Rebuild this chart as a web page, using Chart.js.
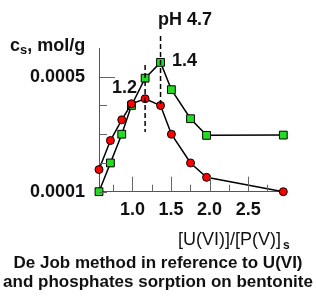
<!DOCTYPE html>
<html>
<head>
<meta charset="utf-8">
<script src="https://cdn.jsdelivr.net/npm/chart.js@4.4.0/dist/chart.umd.min.js"></script>
<style>
  html, body { margin: 0; padding: 0; background: #fff; }
  canvas { display: block; }
</style>
</head>
<body>
<canvas id="chart" width="316" height="300"></canvas>
<script>
// U(VI)/P(V) ratio on the x axis
const ratio = [0.566, 0.714, 0.861, 0.987, 1.164, 1.364, 1.505, 1.753, 1.961, 2.956];
// sorbed amounts, mol/g
const uranium = [0.000177, 0.000278, 0.00035, 0.000406, 0.0004235, 0.0004, 0.0003, 0.0002, 0.00015, 0.0001];
const phosphate = [0.0001, 0.0002, 0.0003, 0.0004, 0.000495, 0.00055, 0.000455, 0.000354, 0.000296, 0.000297];

const xTicks = [0.75, 1.0, 1.25, 1.5, 1.75, 2.0, 2.25, 2.5, 2.75];
const xLabelled = [1.0, 1.5, 2.0, 2.5];
const yTicks = [0.0001, 0.0002, 0.0003, 0.0004, 0.0005];
const yLabelled = [0.0001, 0.0005];
const maxima = [1.164, 1.364];
const maximaLabels = ['1.2', '1.4'];

const FONT = '"Liberation Sans", Arial, sans-serif';
const near = (a, b) => Math.abs(a - b) < 1e-9;

function toPoints(ys) {
    return ratio.map((x, i) => ({ x: x, y: ys[i] }));
}

// tick marks inside the axes, dashed lines and the free texts
const decorations = {
    id: 'decorations',
    afterDraw(chart) {
        const ctx = chart.ctx;
        const xs = chart.scales.x;
        const ys = chart.scales.y;
        const area = chart.chartArea;
        ctx.save();

        ctx.strokeStyle = '#666';
        ctx.lineWidth = 1;
        xTicks.forEach(v => {
            const px = Math.round(xs.getPixelForValue(v)) + 0.5;
            const len = xLabelled.some(l => near(l, v)) ? 15 : 7;
            ctx.beginPath();
            ctx.moveTo(px, area.bottom);
            ctx.lineTo(px, area.bottom - len);
            ctx.stroke();
        });
        yTicks.forEach(v => {
            const py = Math.round(ys.getPixelForValue(v)) + 0.5;
            const len = near(v, 0.0005) ? 16 : 8;
            ctx.beginPath();
            ctx.moveTo(area.left, py);
            ctx.lineTo(area.left + len, py);
            ctx.stroke();
        });

        // dashed lines at the two maxima
        ctx.strokeStyle = '#000';
        ctx.lineWidth = 1.5;
        ctx.setLineDash([5, 3]);
        let px = xs.getPixelForValue(maxima[0]);
        ctx.beginPath();
        ctx.moveTo(px, 65);
        ctx.lineTo(px, 132);
        ctx.stroke();
        px = xs.getPixelForValue(maxima[1]);
        ctx.beginPath();
        ctx.moveTo(px, 36);
        ctx.lineTo(px, 104);
        ctx.stroke();
        ctx.setLineDash([]);

        ctx.fillStyle = '#111';
        ctx.textBaseline = 'alphabetic';
        ctx.textAlign = 'left';
        ctx.font = 'bold 18px ' + FONT;
        ctx.fillText(maximaLabels[0], 112, 93);
        ctx.fillText(maximaLabels[1], 172, 66);

        ctx.textAlign = 'center';
        ctx.fillText('pH 4.7', 185, 25);

        // y axis title
        ctx.textAlign = 'left';
        ctx.fillText('c', 10, 51);
        let w = ctx.measureText('c').width;
        ctx.font = 'bold 13px ' + FONT;
        ctx.fillText('s', 10 + w, 54);
        w += ctx.measureText('s').width;
        ctx.font = 'bold 18px ' + FONT;
        ctx.fillText(', mol/g', 10 + w, 51);

        // x axis title
        ctx.font = '18px ' + FONT;
        ctx.fillText('[U(VI)]/[P(V)]', 178, 245);
        w = ctx.measureText('[U(VI)]/[P(V)]').width;
        ctx.font = 'bold 12px ' + FONT;
        ctx.fillText('s', 178 + w + 2, 249);

        // caption
        ctx.textAlign = 'center';
        ctx.font = 'bold 17px ' + FONT;
        ctx.fillText('De Job method in reference to U(VI)', 158, 268);
        ctx.fillText('and phosphates sorption on bentonite', 158, 287);

        ctx.restore();
    }
};

new Chart(document.getElementById('chart'), {
    type: 'scatter',
    data: {
        datasets: [{
            label: 'U(VI)',
            data: toPoints(uranium),
            showLine: true,
            borderColor: '#000',
            borderWidth: 1.5,
            pointStyle: 'circle',
            pointRadius: 4,
            pointBackgroundColor: '#ff0000',
            pointBorderColor: '#000',
            pointBorderWidth: 1,
            clip: false
        }, {
            label: 'P(V)',
            data: toPoints(phosphate),
            showLine: true,
            borderColor: '#000',
            borderWidth: 1.5,
            pointStyle: 'rect',
            pointRadius: 5.5,
            pointBackgroundColor: '#22dd22',
            pointBorderColor: '#000',
            pointBorderWidth: 1,
            clip: false
        }]
    },
    options: {
        responsive: false,
        animation: false,
        layout: { padding: { left: 0, top: 48, right: 32.7, bottom: 0 } },
        plugins: {
            legend: { display: false },
            tooltip: { enabled: false }
        },
        scales: {
            x: {
                type: 'linear',
                min: 0.566,
                max: 2.956,
                grid: { display: false, drawTicks: false },
                border: { display: true, color: '#555', width: 1 },
                afterBuildTicks: s => { s.ticks = xTicks.map(v => ({ value: v })); },
                afterFit: s => { s.height = 108.3; },
                ticks: {
                    padding: 8,
                    autoSkip: false,
                    maxRotation: 0,
                    color: '#111',
                    font: { family: FONT, size: 18, weight: 'bold' },
                    callback: v => xLabelled.some(l => near(l, v)) ? v.toFixed(1) : ''
                }
            },
            y: {
                type: 'linear',
                min: 0.0001,
                max: 0.0006,
                grid: { display: false, drawTicks: false },
                border: { display: true, color: '#555', width: 1 },
                afterBuildTicks: s => { s.ticks = yTicks.map(v => ({ value: v })); },
                afterFit: s => { s.width = 99; },
                ticks: {
                    padding: 14,
                    autoSkip: false,
                    color: '#111',
                    font: { family: FONT, size: 18, weight: 'bold' },
                    callback: v => yLabelled.some(l => near(l, v)) ? v.toFixed(4) : ''
                }
            }
        }
    },
    plugins: [decorations]
});
</script>
</body>
</html>
